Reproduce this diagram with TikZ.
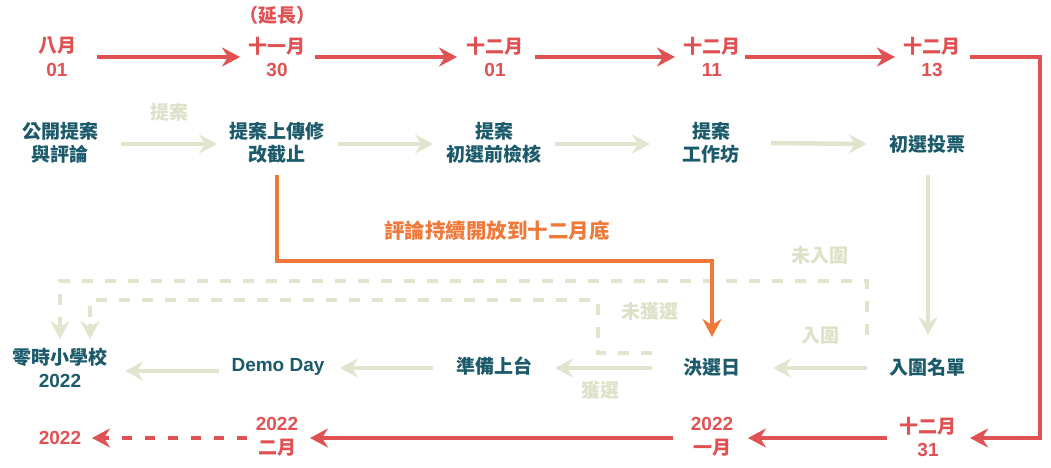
\documentclass[tikz,border=0pt]{standalone}
\usepackage{fontspec}
\setmainfont{Liberation Sans}
\newfontfamily\cjk{Noto Sans CJK TC}
\usetikzlibrary{arrows.meta,calc}
\definecolor{tlred}{HTML}{E05154}
\definecolor{stageteal}{HTML}{1B5A6A}
\definecolor{flowbeige}{HTML}{E2E5CE}
\definecolor{notebeige}{HTML}{DEE1C8}
\definecolor{commentorange}{HTML}{F0793A}
\tikzset{
  every node/.style={font=\fontsize{19}{23.5}\selectfont\bfseries, align=center, inner sep=0pt},
  date/.style={text=tlred},
  stage/.style={text=stageteal},
  note/.style={text=notebeige},
  tipend/.style={-{Stealth[length=18pt,width=19pt,inset=6pt]}},
  redline/.style={draw=tlred, line width=4pt, tipend},
  reddash/.style={redline, dash pattern=on 10pt off 13pt},
  flow/.style={draw=flowbeige, line width=4.5pt, tipend},
  skip/.style={draw=flowbeige, line width=4.5pt, dash pattern=on 11pt off 12pt},
  comment/.style={draw=commentorange, line width=3.5pt, tipend},
}
\begin{document}
\begin{tikzpicture}[x=1pt,y=-1pt]
\useasboundingbox (0,0) rectangle (1051,468);

% timeline dates
\node[date] (d1) at (57,57) {\cjk 八月\\01};
\node[date] (d2) at (277,57) {\cjk 十一月\\30};
\node[date] (ext) at (277,15) {\cjk （延長）};
\node[date] (d3) at (495,57) {\cjk 十二月\\01};
\node[date] (d4) at (712,57) {\cjk 十二月\\11};
\node[date] (d5) at (932,57) {\cjk 十二月\\13};
\node[date] (e1) at (928,437) {\cjk 十二月\\31};
\node[date] (e2) at (712,437) {2022\\\cjk 一月};
\node[date] (e3) at (277,437) {2022\\\cjk 二月};
\node[date] (e4) at (60,438) {2022};
\coordinate (rc) at (1040,250);

% stages
\node[stage] (s1) at (60,143) {\cjk 公開提案\\\cjk 與評論};
\node[stage] (s2) at (277,143) {\cjk 提案上傳修\\\cjk 改截止};
\node[stage] (s3) at (494,143) {\cjk 提案\\\cjk 初選前檢核};
\node[stage] (s4) at (711,143) {\cjk 提案\\\cjk 工作坊};
\node[stage] (s5) at (927,144) {\cjk 初選投票};
\node[stage] (f1) at (927,367) {\cjk 入圍名單};
\node[stage] (f2) at (712,367) {\cjk 決選日};
\node[stage] (f3) at (494,366) {\cjk 準備上台};
\node[stage] (f4) at (278,367) {Demo Day};
\node[stage] (f5) at (60,368) {\cjk 零時小學校\\2022};

% notes
\node[note] (n1) at (169,112) {\cjk 提案};
\node[note] (n2) at (820,336) {\cjk 入圍};
\node[note] (n3) at (600,390) {\cjk 獲選};
\node[note] (n4) at (820,255) {\cjk 未入圍};
\node[note] (n5) at (650,311) {\cjk 未獲選};
\node[text=commentorange, font=\fontsize{20.5}{24}\selectfont\bfseries] (n6) at (497,231) {\cjk 評論持續開放到十二月底};

% timeline arrows
\draw[redline] ($(d1)+(40,0)$) -- ($(d2)+(-37,0)$);
\draw[redline] ($(d2)+(38,0)$) -- ($(d3)+(-38,0)$);
\draw[redline] ($(d3)+(40,0)$) -- ($(d4)+(-37,0)$);
\draw[redline] ($(d4)+(33,0)$) -- ($(d5)+(-37,0)$);
\draw[redline] ($(d5)+(38,0)$) -| (rc) |- ($(e1)+(42,1)$);
\draw[redline] ($(e1)+(-41,1)$) -- ($(e2)+(36,1)$);
\draw[redline] ($(e2)+(-39,1)$) -- ($(e3)+(33,1)$);
\draw[reddash] ($(e3)+(-30,1)$) -- ($(e4)+(32,0)$);

% stage flow
\draw[flow] ($(s1)+(61,1)$) -- ($(s2)+(-60,1)$);
\draw[flow] ($(s2)+(61,1)$) -- ($(s3)+(-61,1)$);
\draw[flow] ($(s3)+(61,1)$) -- ($(s4)+(-61,1)$);
\draw[flow] ($(s4)+(60,0)$) -- ($(s5)+(-60,0)$);
\draw[flow] ($(s5)+(1,31)$) -- ($(f1)+(1,-32)$);
\draw[flow] ($(f1)+(-60,1)$) -- ($(f2)+(61,1)$);
\draw[flow] ($(f2)+(-60,1)$) -- ($(f3)+(61,2)$);
\draw[flow] ($(f3)+(-61,2)$) -- ($(f4)+(62,1)$);
\draw[flow] ($(f4)+(-59,4)$) -- ($(f5)+(65,3)$);

% skipped branches
\draw[skip] ($(f1)+(-60,-32)$) -- ++(0,-54) -| ($(f5)+(0,-42)$);
\draw[skip] ($(f2)+(-60,-14)$) -- ++(-54,0) -- ++(0,-53) -| ($(f5)+(30,-42)$);
\draw[flow] ($(f5)+(0,-44)$) -- ($(f5)+(0,-29)$);
\draw[flow] ($(f5)+(30,-44)$) -- ($(f5)+(30,-29)$);

% comment period
\draw[comment] ($(s2)+(0,32)$) |- ($(f2)+(0,-106)$) -- ($(f2)+(0,-30)$);
\end{tikzpicture}
\end{document}
